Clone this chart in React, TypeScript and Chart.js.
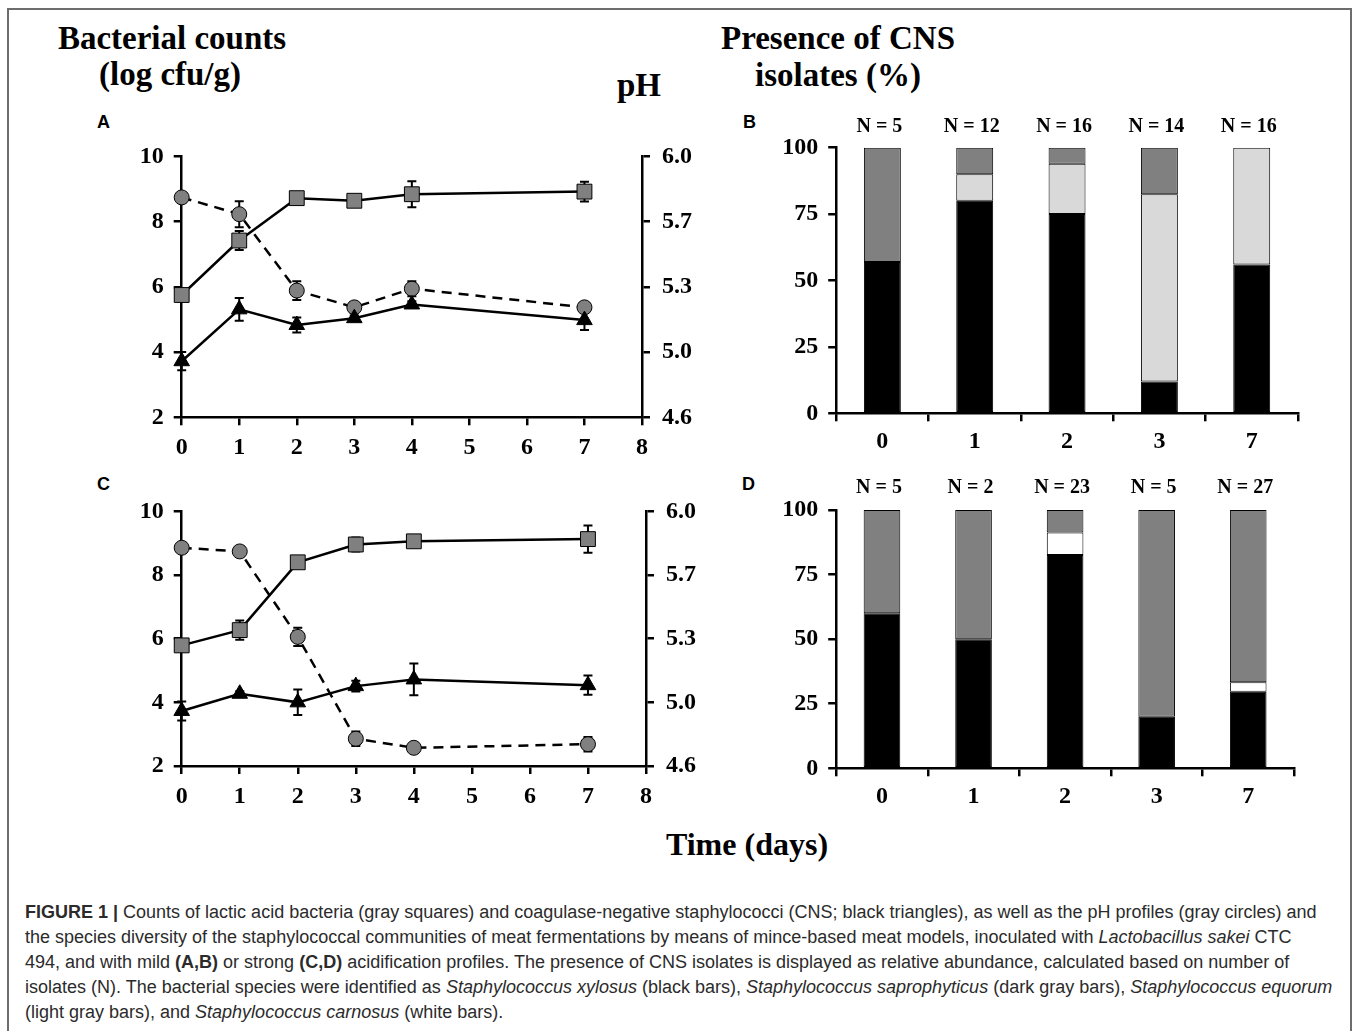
import React, { useEffect, useRef } from "react";
import { Chart, registerables } from "chart.js";

Chart.register(...registerables);

// ---------- DATA ----------
const days = [0, 1, 2, 3, 4, 7];

// Panel A (mild acidification)
const labA = [5.75, 7.42, 8.72, 8.64, 8.84, 8.92];
const labErrA = [0.08, 0.29, 0.05, 0.05, 0.4, 0.3];
const cnsA = [3.72, 5.31, 4.83, 5.04, 5.46, 4.98];
const cnsErrA = [0.28, 0.35, 0.23, 0.08, 0.1, 0.3];
const phA = [5.78, 5.69, 5.28, 5.19, 5.29, 5.19];
const phErrA = [0.02, 0.07, 0.05, 0.02, 0.04, 0.02];

// Panel C (strong acidification)
const labC = [5.79, 6.27, 8.4, 8.96, 9.06, 9.13];
const labErrC = [0.05, 0.3, 0.05, 0.22, 0.05, 0.43];
const cnsC = [3.73, 4.27, 4.0, 4.51, 4.72, 4.54];
const cnsErrC = [0.3, 0.08, 0.4, 0.17, 0.5, 0.3];
const phC = [5.8, 5.78, 5.31, 4.75, 4.7, 4.72];
const phErrC = [0.01, 0.01, 0.05, 0.04, 0.01, 0.04];

// Axis ticks
const phTickValues = [4.6, 4.95, 5.3, 5.65, 6.0];
const phTickLabels = ["4.6", "5.0", "5.3", "5.7", "6.0"];

// Panels B and D (relative abundance, %)
const barDays = ["0", "1", "2", "3", "7"];
const nB = [5, 12, 16, 14, 16];
const xylosusB = [57, 80, 75, 12, 56];
const equorumB = [null, 10, 19, 70.5, 44];
const carnosusB = [null, null, null, null, null];
const saproB = [43, 10, 6, 17.5, null];

const nD = [5, 2, 23, 5, 27];
const xylosusD = [60, 50, 82.6, 20, 29.6];
const equorumD = [null, null, null, null, null];
const carnosusD = [null, null, 8.7, null, 3.7];
const saproD = [40, 50, 8.7, 80, 66.7];

// ---------- STYLE ----------
const SERIF = "'Liberation Serif', 'Times New Roman', serif";
const SANS = "'Liberation Sans', Arial, sans-serif";
const tickFont = { family: SERIF, size: 24, weight: "bold" as const };
const DARK = "#808080";
const LIGHT = "#d9d9d9";

const errorBarPlugin = {
  id: "errorBars",
  beforeDatasetsDraw(chart: any) {
    const ctx = chart.ctx;
    chart.data.datasets.forEach((ds: any, di: number) => {
      if (!ds.errors) return;
      const meta = chart.getDatasetMeta(di);
      const ys = chart.scales[ds.yAxisID];
      ctx.save();
      ctx.strokeStyle = "#000";
      ctx.lineWidth = 2;
      meta.data.forEach((pt: any, i: number) => {
        const v = ds.data[i].y;
        const e = ds.errors[i];
        const yt = ys.getPixelForValue(v + e);
        const yb = ys.getPixelForValue(v - e);
        const x = pt.x;
        ctx.beginPath();
        ctx.moveTo(x, yt);
        ctx.lineTo(x, yb);
        ctx.moveTo(x - 4.5, yt);
        ctx.lineTo(x + 4.5, yt);
        ctx.moveTo(x - 4.5, yb);
        ctx.lineTo(x + 4.5, yb);
        ctx.stroke();
      });
      ctx.restore();
    });
  },
};

const nLabelPlugin = {
  id: "nLabels",
  afterDraw(chart: any) {
    const opts = chart.options.plugins.nLabels;
    if (!opts) return;
    const ctx = chart.ctx;
    const xs = chart.scales.x;
    ctx.save();
    ctx.fillStyle = "#000";
    ctx.font = `bold 20px ${SERIF}`;
    ctx.textAlign = "center";
    ctx.textBaseline = "middle";
    opts.values.forEach((n: number, i: number) => {
      ctx.fillText(`N = ${n}`, xs.getPixelForValue(i) - 3, chart.chartArea.top - opts.offset);
    });
    ctx.restore();
  },
};

type Geom = { w: number; h: number; left: number; right: number; top: number; bottom: number };

function lineConfig(lab: number[], labErr: number[], cns: number[], cnsErr: number[], ph: number[], phErr: number[], g: Geom) {
  const pts = (arr: number[]) => days.map((d, i) => ({ x: d, y: arr[i] }));
  const axisCommon = {
    grid: { drawOnChartArea: false, drawTicks: true, tickLength: 8, color: "#000", lineWidth: 2.5 },
    border: { color: "#000", width: 2.5 },
  };
  return {
    type: "line",
    data: {
      datasets: [
        {
          data: pts(lab), errors: labErr, yAxisID: "y", borderColor: "#000", borderWidth: 2.5, clip: false,
          pointStyle: "rect", pointRadius: 10.5, pointBackgroundColor: DARK, pointBorderColor: "#000", pointBorderWidth: 1, tension: 0,
        },
        {
          data: pts(cns), errors: cnsErr, yAxisID: "y", borderColor: "#000", borderWidth: 2.5, clip: false,
          pointStyle: "triangle", pointRadius: 9, pointBackgroundColor: "#000", pointBorderColor: "#000", pointBorderWidth: 1, tension: 0,
        },
        {
          data: pts(ph), errors: phErr, yAxisID: "y1", borderColor: "#000", borderWidth: 2.5, borderDash: [10, 7], clip: false,
          pointStyle: "circle", pointRadius: 7.5, pointBackgroundColor: DARK, pointBorderColor: "#000", pointBorderWidth: 1, tension: 0,
        },
      ],
    },
    options: {
      animation: false,
      responsive: false,
      events: [],
      layout: { padding: { top: g.top, left: 0, right: 0, bottom: 0 } },
      plugins: { legend: { display: false }, tooltip: { enabled: false } },
      scales: {
        x: {
          type: "linear", min: 0, max: 8,
          ticks: { stepSize: 1, font: tickFont, color: "#000", padding: 8, maxRotation: 0 },
          ...axisCommon,
          afterFit: (s: any) => { s.height = g.h - g.bottom; },
        },
        y: {
          position: "left", min: 2, max: 10,
          ticks: { stepSize: 2, font: tickFont, color: "#000", padding: 10 },
          ...axisCommon,
          afterFit: (s: any) => { s.width = g.left; },
        },
        y1: {
          position: "right", min: 4.6, max: 6.0,
          afterBuildTicks: (s: any) => { s.ticks = phTickValues.map((v) => ({ value: v })); },
          ticks: { font: tickFont, color: "#000", padding: 12, callback: (_v: any, i: number) => phTickLabels[i] },
          ...axisCommon,
          afterFit: (s: any) => { s.width = g.w - g.right; },
        },
      },
    },
    plugins: [errorBarPlugin],
  };
}

function barConfig(n: number[], xyl: (number | null)[], equ: (number | null)[], car: (number | null)[], sap: (number | null)[], g: Geom, nOffset: number) {
  const axisCommon = {
    border: { color: "#000", width: 2.5 },
  };
  return {
    type: "bar",
    data: {
      labels: barDays,
      datasets: [
        { data: xyl, backgroundColor: "#000" },
        { data: equ, backgroundColor: LIGHT },
        { data: car, backgroundColor: "#ffffff" },
        { data: sap, backgroundColor: DARK },
      ],
    },
    options: {
      animation: false,
      responsive: false,
      events: [],
      layout: { padding: { top: g.top, left: 0, right: g.w - g.right, bottom: 0 } },
      datasets: { bar: { barPercentage: 0.4, categoryPercentage: 1, borderColor: "#000", borderWidth: 1, borderSkipped: false } },
      plugins: { legend: { display: false }, tooltip: { enabled: false }, nLabels: { values: n, offset: nOffset } },
      scales: {
        x: {
          stacked: true,
          ticks: { font: tickFont, color: "#000", padding: 6 },
          grid: { offset: true, drawOnChartArea: false, drawTicks: true, tickLength: 8, color: "#000", lineWidth: 2.5 },
          ...axisCommon,
          afterFit: (s: any) => { s.height = g.h - g.bottom; },
        },
        y: {
          stacked: true, min: 0, max: 100,
          ticks: { stepSize: 25, font: tickFont, color: "#000", padding: 10 },
          grid: { drawOnChartArea: false, drawTicks: true, tickLength: 8, color: "#000", lineWidth: 2.5 },
          ...axisCommon,
          afterFit: (s: any) => { s.width = g.left; },
        },
      },
    },
    plugins: [nLabelPlugin],
  };
}

function ChartCanvas({ x, y, w, h, make }: { x: number; y: number; w: number; h: number; make: () => any }) {
  const ref = useRef<HTMLCanvasElement>(null);
  useEffect(() => {
    const chart = new Chart(ref.current as HTMLCanvasElement, make());
    return () => chart.destroy();
  }, []);
  return (
    <canvas
      ref={ref}
      width={w}
      height={h}
      style={{ position: "absolute", left: x, top: y, width: w, height: h, display: "block" }}
    />
  );
}

function Label({ x, y, size, text, align = "left", serif = true, weight = "bold" }: any) {
  const top = y - size * (serif ? 0.8375 : 0.8465);
  const style: React.CSSProperties = {
    position: "absolute",
    top,
    left: align === "center" ? x - 600 : x,
    width: align === "center" ? 1200 : undefined,
    textAlign: align,
    fontFamily: serif ? SERIF : SANS,
    fontWeight: weight,
    fontSize: size,
    lineHeight: `${size}px`,
    whiteSpace: "nowrap",
    color: "#000",
  };
  return <div style={style}>{text}</div>;
}

const CAP_SIZE = 18;
const capStyle: React.CSSProperties = {
  position: "absolute",
  left: 25,
  fontFamily: SANS,
  fontSize: CAP_SIZE,
  lineHeight: `${CAP_SIZE}px`,
  whiteSpace: "nowrap",
  color: "#2b2b2b",
};

export default function App() {
  const gA: Geom = { w: 630, h: 345, left: 91.7, right: 552, top: 20.7, bottom: 287.3 };
  const gC: Geom = { w: 630, h: 345, left: 91.7, right: 556, top: 20, bottom: 281 };
  const gB: Geom = { w: 590, h: 365, left: 76.2, right: 537.9, top: 47.7, bottom: 313.3 };
  const gD: Geom = { w: 590, h: 365, left: 76.2, right: 534, top: 48, bottom: 306.3 };
  const capTop = (baseline: number) => baseline - CAP_SIZE * 0.8465;
  return (
    <div style={{ position: "absolute", left: 0, top: 0, width: 1357, height: 1031, overflow: "hidden", background: "#fff" }}>
      <div style={{ position: "absolute", left: 7, top: 8, width: 1341, height: 1100, border: "2px solid #6d6d6d" }} />

      <Label x={172} y={50} size={33} text="Bacterial counts" align="center" />
      <Label x={170} y={86} size={33} text="(log cfu/g)" align="center" />
      <Label x={617} y={97} size={33} text="pH" />
      <Label x={838} y={50} size={33} text="Presence of CNS" align="center" />
      <Label x={838} y={87} size={33} text="isolates (%)" align="center" />
      <Label x={747} y={855} size={32} text="Time (days)" align="center" />

      <Label x={97} y={128} size={18} text="A" serif={false} />
      <Label x={743} y={128} size={18} text="B" serif={false} />
      <Label x={97} y={490} size={18} text="C" serif={false} />
      <Label x={742} y={490} size={18} text="D" serif={false} />

      <ChartCanvas x={90} y={130} w={gA.w} h={gA.h} make={() => lineConfig(labA, labErrA, cnsA, cnsErrA, phA, phErrA, gA)} />
      <ChartCanvas x={90} y={485} w={gC.w} h={gC.h} make={() => lineConfig(labC, labErrC, cnsC, cnsErrC, phC, phErrC, gC)} />
      <ChartCanvas x={760} y={100} w={gB.w} h={gB.h} make={() => barConfig(nB, xylosusB, equorumB, carnosusB, saproB, gB, 20.7)} />
      <ChartCanvas x={760} y={462} w={gD.w} h={gD.h} make={() => barConfig(nD, xylosusD, equorumD, carnosusD, saproD, gD, 22)} />

      <div style={{ ...capStyle, top: capTop(918) }}>
        <b>FIGURE 1 |</b> Counts of lactic acid bacteria (gray squares) and coagulase-negative staphylococci (CNS; black triangles), as well as the pH profiles (gray circles) and
      </div>
      <div style={{ ...capStyle, top: capTop(943) }}>
        the species diversity of the staphylococcal communities of meat fermentations by means of mince-based meat models, inoculated with <i>Lactobacillus sakei</i> CTC
      </div>
      <div style={{ ...capStyle, top: capTop(968) }}>
        494, and with mild <b>(A,B)</b> or strong <b>(C,D)</b> acidification profiles. The presence of CNS isolates is displayed as relative abundance, calculated based on number of
      </div>
      <div style={{ ...capStyle, top: capTop(993) }}>
        isolates (N). The bacterial species were identified as <i>Staphylococcus xylosus</i> (black bars), <i>Staphylococcus saprophyticus</i> (dark gray bars), <i>Staphylococcus equorum</i>
      </div>
      <div style={{ ...capStyle, top: capTop(1018) }}>
        (light gray bars), and <i>Staphylococcus carnosus</i> (white bars).
      </div>
    </div>
  );
}
